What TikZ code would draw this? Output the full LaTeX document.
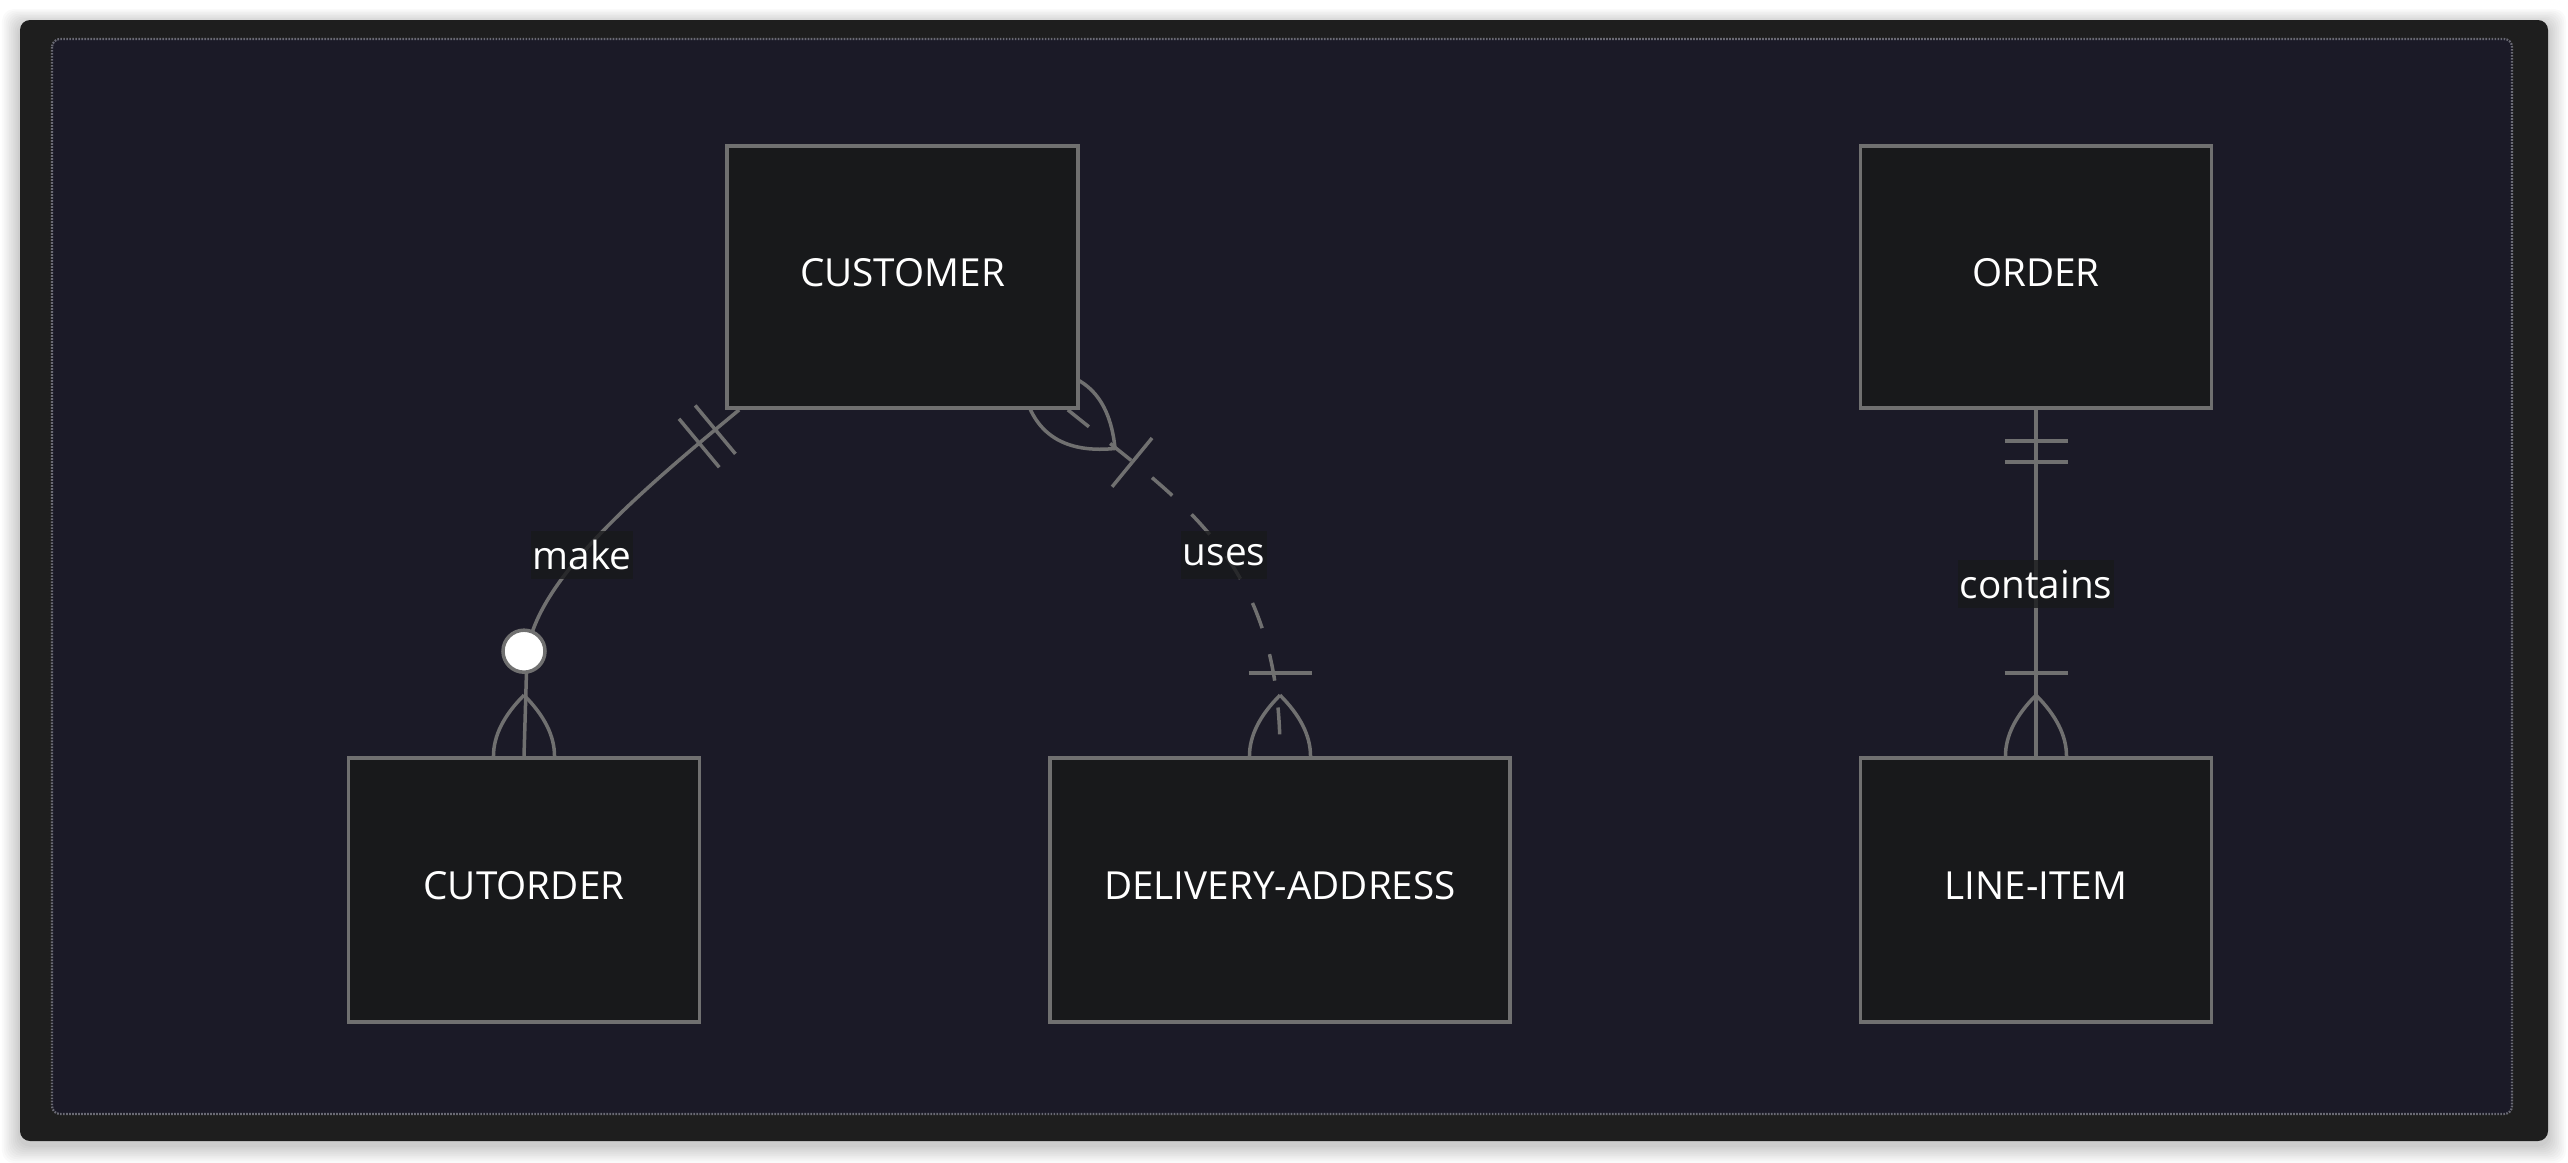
\documentclass[tikz,border=0pt]{standalone}
\usepackage{fontspec}
\setmainfont{Open Sans}
\usetikzlibrary{calc}

\definecolor{framebg}{HTML}{1E1E1E}
\definecolor{canvasbg}{HTML}{1B1A27}
\definecolor{entityfill}{HTML}{18191B}
\definecolor{erline}{HTML}{707070}
\definecolor{framedots}{HTML}{6A6A74}

\pgfdeclarelayer{back}
\pgfdeclarelayer{edges}
\pgfsetlayers{back,edges,main}

\tikzset{
  entity/.style={draw=erline, line width=0.035cm, fill=entityfill, text=white,
    minimum width=3.51cm, minimum height=2.62cm, inner sep=0pt,
    text height=0.28cm, text depth=0.1cm,
    font=\fontsize{11}{13}\selectfont},
  rel/.style={fill=entityfill, fill opacity=0.8, text opacity=1, text=white,
    inner xsep=0.02cm, inner ysep=0pt, minimum height=0.48cm,
    font=\fontsize{11}{13}\selectfont},
  erlink/.style={draw=erline, line width=0.035cm},
  erdash/.style={erlink, dash pattern=on 0.27cm off 0.27cm},
}

% ends of a relation: #1 = point on the entity, #2 = angle away from it
\newcommand{\onlyone}[2]{
  \begin{scope}[shift={(#1)}, rotate=#2]
    \draw[erlink] (31,-31.5)--(31,31.5);
    \draw[erlink] (52,-31.5)--(52,31.5);
  \end{scope}
}
\newcommand{\crowfoot}[2]{
  \begin{scope}[shift={(#1)}, rotate=#2]
    \draw[erlink] (61,0) .. controls (20.3,40.7) and (-20.3,40.7) .. (-61,0);
    \draw[erlink] (61,0) .. controls (20.3,-40.7) and (-20.3,-40.7) .. (-61,0);
  \end{scope}
}
\newcommand{\oneormore}[2]{
  \crowfoot{#1}{#2}
  \begin{scope}[shift={(#1)}, rotate=#2]
    \draw[erlink] (83,-31.5)--(83,31.5);
  \end{scope}
}
\newcommand{\zeroormore}[2]{
  \crowfoot{#1}{#2}
  \begin{scope}[shift={(#1)}, rotate=#2]
    \draw[erlink, fill=white] (105,0) circle[radius=0.21cm];
  \end{scope}
}

\begin{document}
\begin{tikzpicture}[x=0.01cm, y=-0.01cm]
    \useasboundingbox (0,0) rectangle (2568,1162);

    % entities
    \node[entity] (cust) at (902.5,277) {CUSTOMER};
    \node[entity] (order) at (2036,277) {ORDER};
    \node[entity, minimum height=2.64cm] (cutorder) at (524,890) {CUTORDER};
    \node[entity, minimum width=4.6cm, minimum height=2.64cm] (delivery) at (1280,890) {DELIVERY-ADDRESS};
    \node[entity, minimum height=2.64cm] (lineitem) at (2036,890) {LINE-ITEM};

    % relation labels
    \node[rel] (makeLbl) at (582,555) {make};
    \node[rel] (usesLbl) at (1224,555) {uses};
    \node[rel] (containsLbl) at (2036,584) {contains};

    \coordinate (makeA) at ([xshift=0.14cm]cust.south west);
    \coordinate (usesA) at ([xshift=-0.12cm]cust.south east);

    \begin{pgfonlayer}{edges}
      \draw[erlink] (makeA) .. controls (641,491) and (535,580) .. (527,655) -- (cutorder.north);
      \draw[erdash] (usesA) .. controls (1181,502) and (1281,558) .. (delivery.north);
      \draw[erlink] (order.south) -- (lineitem.north);

      \onlyone{makeA}{219.7}
      \zeroormore{cutorder.north}{90}
      \oneormore{usesA}{-39.3}
      \oneormore{delivery.north}{90}
      \onlyone{order.south}{-90}
      \oneormore{lineitem.north}{90}
    \end{pgfonlayer}

    \begin{pgfonlayer}{back}
      \fill[white] (0,0) rectangle (2568,1162);
      \foreach \s in {1,...,10} {
        \fill[black, opacity=0.02, rounded corners=0.12cm] (20-1.8*\s,24-1.5*\s) rectangle (2548+1.8*\s,1145+1.8*\s);
      }
      \fill[framebg, rounded corners=0.1cm] (20,20) rectangle (2548,1141);
      \draw[framedots, fill=canvasbg, line width=0.022cm, dash pattern=on 0.017cm off 0.013cm, rounded corners=0.08cm] (52,39) rectangle (2512,1114);
    \end{pgfonlayer}
\end{tikzpicture}
\end{document}
